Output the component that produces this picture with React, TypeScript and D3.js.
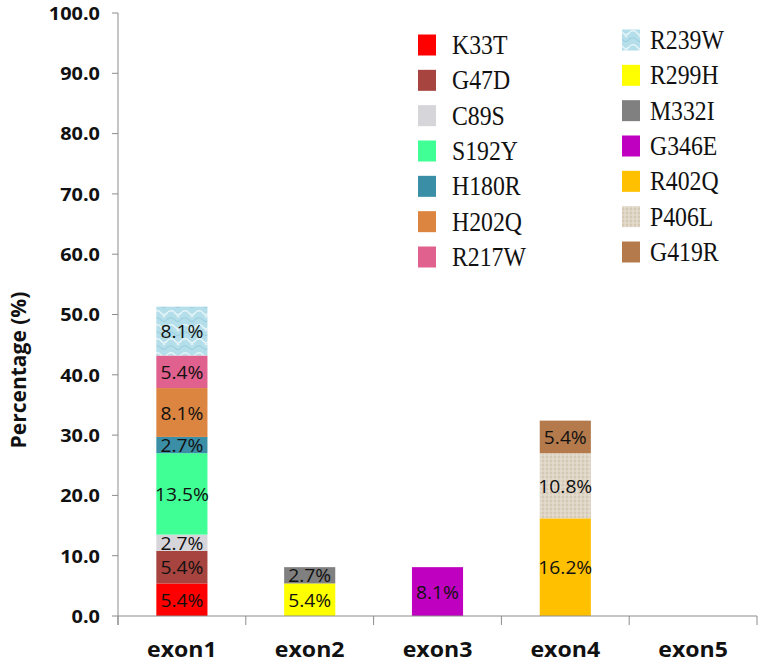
import React from "react";
import * as d3 from "d3";

const categories = ["exon1", "exon2", "exon3", "exon4", "exon5"];
const mutations = ["K33T", "G47D", "C89S", "S192Y", "H180R", "H202Q", "R217W", "R239W", "R299H", "M332I", "G346E", "R402Q", "P406L", "G419R"];
const mutationExon = ["exon1", "exon1", "exon1", "exon1", "exon1", "exon1", "exon1", "exon1", "exon2", "exon2", "exon3", "exon4", "exon4", "exon4"];
const values = [5.4, 5.4, 2.7, 13.5, 2.7, 8.1, 5.4, 8.1, 5.4, 2.7, 8.1, 16.2, 10.8, 5.4];
const colors = ["#FF0000", "#A8443F", "#D6D6DA", "#40FF94", "#3A8EA6", "#DC8540", "#E0608E", "url(#water)", "#FFFF00", "#808080", "#C000C0", "#FFC000", "url(#burlap)", "#B47A4C"];
const yTicks = [0, 10, 20, 30, 40, 50, 60, 70, 80, 90, 100];

function T(props: { x: number; y: number; sx?: number; anchor?: string; size: number; bold?: boolean; family?: string; children: any }) {
  const { x, y, sx = 1, anchor = "middle", size, bold, family = "'Open Sans', sans-serif", children } = props;
  return (
    <text transform={`translate(${x},${y}) scale(${sx},1)`} textAnchor={anchor as any} dominantBaseline="central"
      fontFamily={family} fontWeight={bold ? "bold" : "normal"} fontSize={size} fill="#111">
      {children}
    </text>
  );
}

export default function App() {
  const W = 763, H = 665;
  const x = d3.scaleBand<string>().domain(categories).range([118, 757]).padding(0);
  const y = d3.scaleLinear().domain([0, 100]).range([616, 13]);
  const fmt = d3.format(".1f");
  const barW = x.bandwidth() * 0.4;

  const cum: Record<string, number> = {};
  const segs = mutations.map((m, i) => {
    const ex = mutationExon[i];
    const base = cum[ex] || 0;
    cum[ex] = base + values[i];
    return { m, ex, y0: base, y1: base + values[i], v: values[i], color: colors[i] };
  });

  const boundaries = categories.map((c) => x(c) as number).concat([x.range()[1]]);

  const leftCol = mutations.slice(0, 7);
  const rightCol = mutations.slice(7);
  const rowY = d3.scaleLinear().domain([0, 6]).range([45, 257]);

  return (
    <svg width={W} height={H} style={{ position: "absolute", left: 0, top: 0, background: "#fff" }}>
      <defs>
        <pattern id="water" width="14" height="14" patternUnits="userSpaceOnUse">
          <rect width="14" height="14" fill="#B4DFEA" />
          <path d="M0 4 Q4 1 7 5 T14 4" stroke="#E4F4F8" strokeWidth="1.5" fill="none" />
          <path d="M0 11 Q3 8 7 12 T14 10" stroke="#98CCDB" strokeWidth="1" fill="none" />
          <circle cx="10" cy="8" r="1.5" fill="#DDF0F5" />
        </pattern>
        <pattern id="burlap" width="4" height="4" patternUnits="userSpaceOnUse">
          <rect width="4" height="4" fill="#DDD4C4" />
          <line x1="0" y1="1" x2="4" y2="1" stroke="#CDBFA8" strokeWidth="1" />
          <line x1="1" y1="0" x2="1" y2="4" stroke="#EAE4D8" strokeWidth="1" />
        </pattern>
      </defs>

      {segs.map((s, i) => {
        const cx = (x(s.ex) as number) + x.bandwidth() / 2;
        const top = y(s.y1), bot = y(s.y0);
        return (
          <g key={i}>
            <rect x={cx - barW / 2} y={top} width={barW} height={bot - top} fill={s.color} />
            <T x={cx} y={(top + bot) / 2} sx={1.1} size={17.5}>{fmt(s.v) + "%"}</T>
          </g>
        );
      })}

      <line x1={118} x2={118} y1={y(100)} y2={625} stroke="#8c8c8c" strokeWidth={1} />
      {yTicks.map((t) => (
        <g key={t}>
          <line x1={112} x2={118} y1={y(t)} y2={y(t)} stroke="#8c8c8c" />
          <T x={100} y={y(t)} sx={1.17} anchor="end" size={17} bold>{fmt(t)}</T>
        </g>
      ))}

      <line x1={118} x2={757} y1={616} y2={616} stroke="#8c8c8c" />
      {boundaries.map((b, i) => (
        <line key={i} x1={b} x2={b} y1={616} y2={625} stroke="#8c8c8c" />
      ))}
      {categories.map((c) => (
        <T key={c} x={(x(c) as number) + x.bandwidth() / 2} y={648} sx={1.1} size={21} bold>{c}</T>
      ))}

      <text transform="translate(18,370) rotate(-90)" textAnchor="middle" dominantBaseline="central"
        fontFamily="'Open Sans', sans-serif" fontWeight="bold" fontSize={21} fill="#111">
        Percentage (%)
      </text>

      {leftCol.map((m, i) => {
        const idx = mutations.indexOf(m);
        return (
          <g key={m}>
            <rect x={418} y={rowY(i) - 10.5} width={18} height={21} fill={colors[idx]} />
            <T x={452} y={rowY(i)} sx={0.88} anchor="start" size={27} family="'Liberation Serif', serif">{m}</T>
          </g>
        );
      })}
      {rightCol.map((m, i) => {
        const idx = mutations.indexOf(m);
        return (
          <g key={m}>
            <rect x={622} y={rowY(i) - 5 - 10.5} width={18} height={21} fill={colors[idx]} />
            <T x={650} y={rowY(i) - 5} sx={0.88} anchor="start" size={27} family="'Liberation Serif', serif">{m}</T>
          </g>
        );
      })}
    </svg>
  );
}
